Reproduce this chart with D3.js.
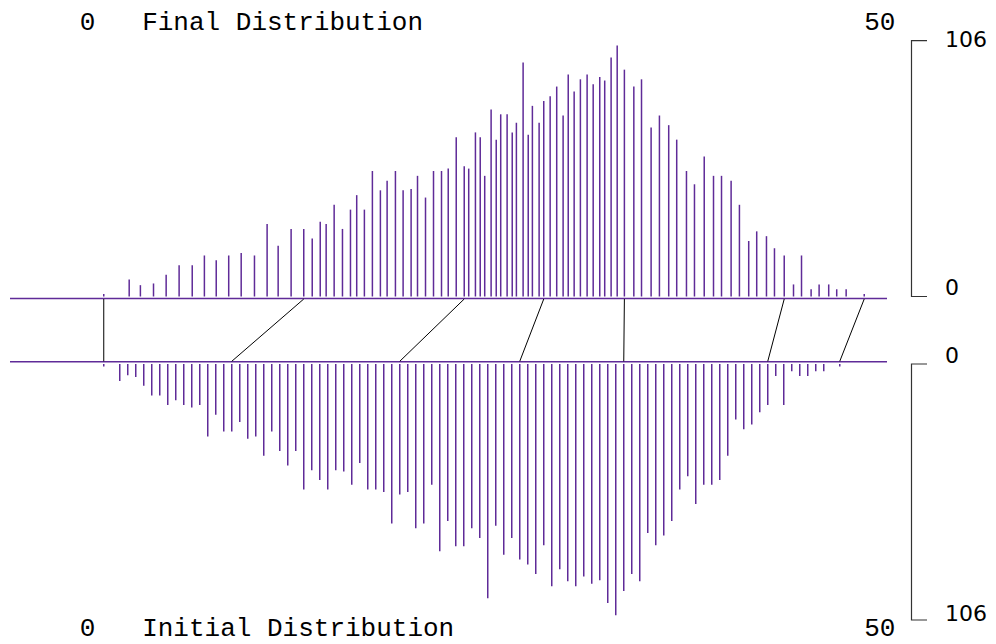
<!DOCTYPE html>
<html>
<head>
<meta charset="utf-8">
<script src="https://cdn.jsdelivr.net/npm/d3@7"></script>
<style>
  html, body { margin: 0; padding: 0; background: #ffffff; }
  svg { display: block; }
  .mono { font-family: "Liberation Mono", "DejaVu Sans Mono", monospace; white-space: pre; }
  .scale { font-family: "DejaVu Sans", sans-serif; }
</style>
</head>
<body>
<svg id="chart" width="996" height="644"></svg>
<script>
// Bin positions of the initial distribution (value axis 0..50)
const initialValues = [
  1, 2, 2.5, 3, 3.5, 4, 4.5, 5, 5.5, 6, 6.5, 7, 7.5, 8, 8.5, 9, 9.5, 10, 10.5, 11,
  11.5, 12, 12.5, 13, 13.5, 14, 14.5, 15, 15.5, 16, 16.5, 17, 17.5, 18, 18.5, 19, 19.5, 20,
  20.5, 21, 21.5, 22, 22.5, 23, 23.5, 24, 24.5, 25, 25.5, 26, 26.5, 27, 27.5, 28, 28.5, 29,
  29.5, 30, 30.5, 31, 31.5, 32, 32.5, 33, 33.5, 34, 34.5, 35, 35.5, 36, 36.5, 37, 37.5, 38,
  38.5, 39, 39.5, 40, 40.5, 41, 41.5, 42, 42.5, 43, 43.5, 44, 44.5, 45, 45.5, 46, 47
];

// Where each bin lands after the transformation
const finalValues = [
  1.00, 2.59, 3.29, 4.11, 4.90, 5.71, 6.53, 7.29, 8.03, 8.81,
  9.59, 10.42, 11.21, 11.90, 12.71, 13.50, 14.03, 14.53, 14.90, 15.40,
  15.92, 16.42, 16.81, 17.29, 17.79, 18.29, 18.71, 19.23, 19.71, 20.21,
  20.61, 21.11, 21.61, 22.11, 22.53, 23.03, 23.53, 23.81, 24.23, 24.53,
  24.81, 25.21, 25.53, 25.81, 26.21, 26.53, 26.79, 27.21, 27.53, 27.79,
  28.21, 28.50, 28.90, 29.31, 29.71, 30.03, 30.40, 30.79, 31.21, 31.59,
  32.00, 32.31, 32.71, 33.09, 33.54, 34.13, 34.61, 35.21, 35.73, 36.31,
  36.81, 37.42, 37.92, 38.53, 39.11, 39.61, 40.21, 40.73, 41.31, 41.81,
  42.42, 42.92, 43.53, 44.11, 44.61, 45.21, 45.71, 46.31, 46.81, 47.40, 48.53
];

// Counts per bin (shared by both distributions)
const counts = [
  1, 7, 4.7, 5.4, 9, 13, 13, 17, 15, 17,
  18, 17, 30, 21, 28, 28, 24, 31, 30, 38,
  28, 36, 42, 36, 52, 44, 48, 52, 44, 44.5,
  50, 41, 52, 52, 53, 66, 54, 53, 68, 66,
  50, 77.5, 65, 75.5, 75.5, 68, 72, 97, 67, 79,
  72, 81, 83, 87, 75, 92, 85, 90, 92, 88,
  91, 89.5, 99, 104, 94, 87, 90, 70, 75, 71,
  65, 52, 46.5, 58, 50, 50, 48, 38, 23, 27,
  25, 20, 17, 5, 17, 3, 5, 5, 3, 3, 1
];

// Bins whose displacement is traced between the two panels
const linkedBins = [0, 15, 36, 51, 64, 82, 90];

const valueTicks = [0, 50];
const countTicks = [0, 106];
const topTitle = "Final Distribution";
const bottomTitle = "Initial Distribution";

const barColor = "#5f2b98";
const svg = d3.select("#chart");

const x = d3.scaleLinear().domain([0, 50]).range([87.75, 887.75]);
const yTop = d3.scaleLinear().domain([0, 106]).range([296.5, 40.7]);
const yBot = d3.scaleLinear().domain([0, 106]).range([364, 620]);

const topBase = 298.5, botBase = 361.8;
const rows = counts.map((c, i) => ({ c, a: initialValues[i], b: finalValues[i] }));

// baselines
svg.selectAll("line.base").data([topBase, botBase]).join("line")
  .attr("class", "base")
  .attr("x1", 10).attr("x2", 887)
  .attr("y1", d => d).attr("y2", d => d)
  .attr("stroke", barColor).attr("stroke-width", 1.6);

// final distribution (upward stems)
svg.append("g").selectAll("line").data(rows).join("line")
  .attr("x1", d => x(d.b)).attr("x2", d => x(d.b))
  .attr("y1", yTop(0)).attr("y2", d => yTop(d.c))
  .attr("stroke", barColor).attr("stroke-width", 1.5);

// initial distribution (downward stems)
svg.append("g").selectAll("line").data(rows).join("line")
  .attr("x1", d => x(d.a)).attr("x2", d => x(d.a))
  .attr("y1", yBot(0)).attr("y2", d => yBot(d.c))
  .attr("stroke", barColor).attr("stroke-width", 1.5);

// connectors between a bin and its new position
svg.append("g").selectAll("line").data(linkedBins.map(i => rows[i])).join("line")
  .attr("x1", d => x(d.b)).attr("y1", topBase + 0.5)
  .attr("x2", d => x(d.a)).attr("y2", botBase - 0.5)
  .attr("stroke", "#000").attr("stroke-width", 1);

// value-axis labels and titles
function header(y, title) {
  svg.append("text").attr("class", "mono")
    .attr("x", x(valueTicks[0]) - 8).attr("y", y)
    .attr("font-size", 26).attr("fill", "#000")
    .text(valueTicks[0] + "   " + title);
  svg.append("text").attr("class", "mono")
    .attr("x", x(valueTicks[1]) - 8).attr("y", y)
    .attr("text-anchor", "middle")
    .attr("font-size", 26).attr("fill", "#000")
    .text(String(valueTicks[1]));
}
header(30, topTitle);
header(636, bottomTitle);

// count scale brackets
function bracket(scale, offsets) {
  const y0 = scale(countTicks[0]), y1 = scale(countTicks[1]);
  svg.append("path")
    .attr("d", `M927,${y1} H911.5 V${y0} H927`)
    .attr("fill", "none").attr("stroke", "#333").attr("stroke-width", 1.2);
  countTicks.forEach((t, i) => {
    svg.append("text").attr("class", "scale")
      .attr("x", 945).attr("y", scale(t) + offsets[i])
      .attr("font-size", 22).attr("fill", "#000")
      .text(t);
  });
}
bracket(yTop, [-2, 6]);
bracket(yBot, [-1, 1]);
</script>
</body>
</html>
